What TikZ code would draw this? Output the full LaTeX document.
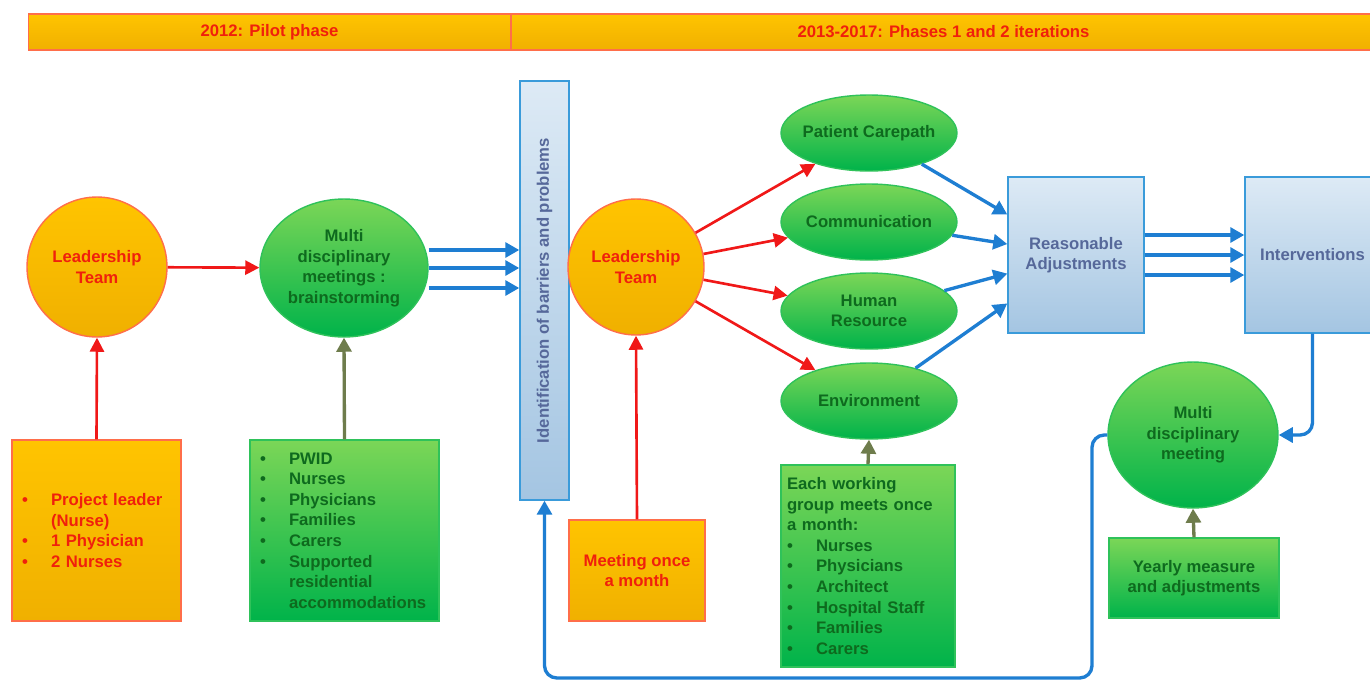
\documentclass[tikz,border=0pt]{standalone}
\usepackage{fontspec}
\setmainfont{Liberation Sans}
\usepackage{xcolor}
\usepackage{tikz}
\usetikzlibrary{calc}
\usetikzlibrary{arrows.meta,shapes.geometric}

\definecolor{orangetop}{HTML}{FFC400}
\definecolor{orangebot}{HTML}{F0B000}
\definecolor{orangeedge}{HTML}{FF6E4A}
\definecolor{redtext}{HTML}{F0200C}
\definecolor{redline}{HTML}{F01818}
\definecolor{greentop}{HTML}{7BD657}
\definecolor{greenbot}{HTML}{00B34A}
\definecolor{greenedge}{HTML}{2FC25A}
\definecolor{greentext}{HTML}{0E6A1E}
\definecolor{bluetop}{HTML}{DDEAF5}
\definecolor{bluebot}{HTML}{A4C5E2}
\definecolor{blueedge}{HTML}{3A9BDA}
\definecolor{bluetext}{HTML}{56689A}
\definecolor{blueline}{HTML}{1E7ED2}
\definecolor{oliveline}{HTML}{6E7C4C}

\newcommand{\bul}{\makebox[0.58cm][l]{\textbullet}}
\newcommand{\bulin}{\hspace*{0.58cm}}

\begin{document}
\begin{tikzpicture}[x=0.02cm,y=-0.02cm,
  every node/.style={font=\fontsize{9.5}{11.7}\selectfont\bfseries},
  orangebox/.style={draw=orangeedge,line width=0.8pt,top color=orangetop,bottom color=orangebot,text=redtext},
  greenbox/.style={draw=greenedge,line width=0.8pt,top color=greentop,bottom color=greenbot,text=greentext},
  bluebox/.style={draw=blueedge,line width=0.8pt,top color=bluetop,bottom color=bluebot,text=bluetext},
  greenoval/.style={greenbox,ellipse,inner xsep=-0.3cm,inner ysep=0pt,align=center},
  redarrow/.style={redline,line width=1.5pt,-{Triangle[length=8pt,width=8pt]}},
  bluearrow/.style={blueline,line width=1.9pt,-{Triangle[length=8pt,width=8.5pt]}},
  olivearrow/.style={oliveline,line width=1.9pt,-{Triangle[length=8pt,width=8.5pt]}}]
\fill[white] (0,0) rectangle (1370,680);
\useasboundingbox (0,0) rectangle (1370,680);

% Phases
\node[orangebox,line width=0.6pt,minimum width=9.66cm,minimum height=0.72cm] (pilot) at (269.5,32) {2012: Pilot phase};
\node[orangebox,line width=0.6pt,minimum width=17.3cm,minimum height=0.72cm] (iter) at (943.5,32) {2013-2017: Phases 1 and 2 iterations};

% Pilot
\node[orangebox,circle,minimum size=2.8cm,inner sep=0pt,align=center] (lead1) at (97,267) {Leadership\\Team};
\node[greenoval,minimum width=3.36cm,minimum height=2.76cm] (mdm1) at (344,268) {Multi\\disciplinary\\meetings :\\brainstorming};
\node[orangebox,minimum width=3.38cm,minimum height=3.62cm,text width=2.98cm,inner xsep=0.2cm,align=left] (pbox1) at (96.5,530.5)
  {\bul Project leader\\ \bulin(Nurse)\\ \bul 1 Physician\\ \bul 2 Nurses};
\node[greenbox,minimum width=3.78cm,minimum height=3.62cm,text width=3.38cm,inner xsep=0.2cm,align=left] (pbox2) at (344.5,530.5)
  {\bul PWID\\ \bul Nurses\\ \bul Physicians\\ \bul Families\\ \bul Carers\\ \bul Supported\\ \bulin residential\\ \bulin accommodations};

\draw[redarrow] (lead1) -- (mdm1);
\draw[redarrow] (pbox1.north) -- (lead1.south);
\draw[olivearrow] (pbox2.north) -- (mdm1.south);

% Barriers
\node[bluebox,minimum width=0.98cm,minimum height=8.38cm,
  label={[rotate=90,text=bluetext]center:Identification of barriers and problems}] (bar) at (544.5,290.5) {};
\foreach \dy in {-18,0,20}
  \draw[bluearrow] ($(mdm1.east)+(0,\dy)$) -- ($(bar.west|-mdm1.east)+(0,\dy)$);

% Iterations
\node[orangebox,circle,minimum size=2.72cm,inner sep=0pt,align=center] (lead2) at (636,267) {Leadership\\Team};
\node[orangebox,minimum width=2.72cm,minimum height=2.02cm,align=center] (mbox) at (637,570.5) {Meeting once\\a month};
\draw[redarrow] (mbox.north) -- (lead2.south);

\node[greenoval,minimum width=3.52cm,minimum height=1.52cm] (care) at (869,133) {Patient Carepath};
\node[greenoval,minimum width=3.52cm,minimum height=1.52cm] (comm) at (869,222) {Communication};
\node[greenoval,minimum width=3.52cm,minimum height=1.52cm] (hres) at (869,311) {Human\\Resource};
\node[greenoval,minimum width=3.52cm,minimum height=1.52cm] (env) at (869,401) {Environment};
\node[greenbox,minimum width=3.48cm,minimum height=4.04cm,text width=3.24cm,inner xsep=0.12cm,align=left] (wbox) at (868,566)
  {Each working\\group meets once\\a month:\\ \bul Nurses\\ \bul Physicians\\ \bul Architect\\ \bul Hospital Staff\\ \bul Families\\ \bul Carers};
\draw[olivearrow] (wbox.north) -- (env.south);

\foreach \g in {care,comm,hres,env}
  \draw[redarrow] (lead2) -- (\g);

\node[bluebox,minimum width=2.72cm,minimum height=3.12cm,align=center] (radj) at (1076,255) {Reasonable\\Adjustments};
\node[bluebox,minimum width=2.7cm,minimum height=3.12cm,align=center] (intv) at (1312.5,255) {Interventions};

\foreach \g in {care,comm,hres,env}
  \draw[bluearrow] (\g) -- (radj);
\foreach \dy in {-20,0,20}
  \draw[bluearrow] ($(radj.east)+(0,\dy)$) -- ($(intv.west|-radj.east)+(0,\dy)$);

% Yearly loop
\node[greenoval,minimum width=3.4cm,minimum height=2.92cm] (mdm2) at (1193,435) {Multi\\disciplinary\\meeting};
\node[greenbox,minimum width=3.4cm,minimum height=1.6cm,align=center] (ybox) at (1194,578) {Yearly measure\\and adjustments};
\draw[olivearrow] (ybox.north) -- (mdm2.south);
\draw[bluearrow,rounded corners=7pt] (intv.south) |- (mdm2.east);

\coordinate (loopcorner) at (1092,678);
\draw[bluearrow,rounded corners=7pt] (mdm2.west) -| (loopcorner) -| (bar.south);
\end{tikzpicture}
\end{document}
